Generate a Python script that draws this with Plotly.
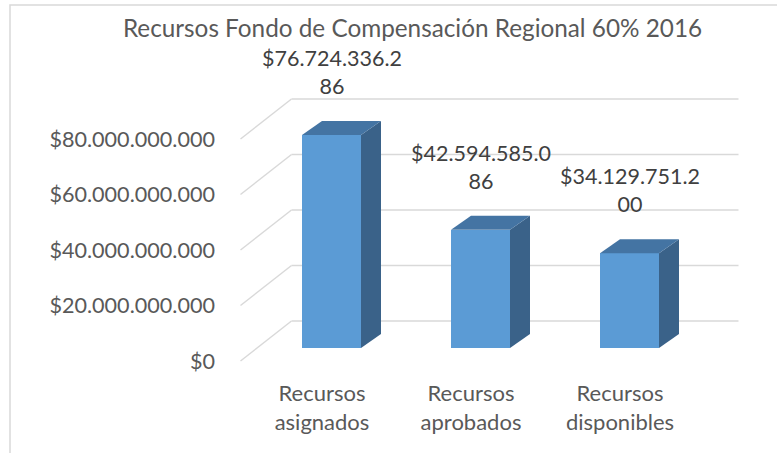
import plotly.graph_objects as go

# ---------------- data ----------------
categories = ["Recursos asignados", "Recursos aprobados", "Recursos disponibles"]
values = [76724336286, 42594585086, 34129751200]
y_tick_vals = [0, 20e9, 40e9, 60e9, 80e9]
y_tick_text = ["$0", "$20.000.000.000", "$40.000.000.000", "$60.000.000.000", "$80.000.000.000"]
title_text = "Recursos Fondo de Compensación Regional 60% 2016"

# ---------------- styling / projection ----------------
W, H = 777, 453
M_L, M_R, M_T, M_B = 236, 33, 90, 84
PX_PER_CAT = 149.0
CAT0_PX = 315.0            # pixel of category 0 on the front plane
PX_PER_VAL = 2.775e-9      # pixels per value unit
FLOOR_PX = 361.0           # pixel of value 0 on the front plane

WALL_DX = 51 / PX_PER_CAT
WALL_DY = 40 / PX_PER_VAL
BAR_DX = 16.5 / PX_PER_CAT
BAR_DY = 13 / PX_PER_VAL
BAR_W = 59 / PX_PER_CAT
SIDE_DX = 20 / PX_PER_CAT
SIDE_DY = 14 / PX_PER_VAL

FRONT = "#5B9BD5"
TOP = "#4474A3"
SIDE = "#3A6289"
GRID = "#D9D9D9"
TXT = "#595959"
LBL = "#404040"
FONT = "Lato"

x_range = [(M_L - CAT0_PX) / PX_PER_CAT, (W - M_R - CAT0_PX) / PX_PER_CAT]
y_range = [-((H - M_B) - FLOOR_PX) / PX_PER_VAL, (FLOOR_PX - M_T) / PX_PER_VAL]

n = len(categories)
x_pos = list(range(n))
x_left_floor = -0.5
x_right_floor = n - 0.5

fig = go.Figure()

# back wall gridlines + side wall diagonals (drawn below the bars)
for v in y_tick_vals:
    fig.add_shape(type="line", xref="x", yref="y", layer="below",
                  x0=x_left_floor, y0=v, x1=x_left_floor + WALL_DX, y1=v + WALL_DY,
                  line=dict(color=GRID, width=1.5))
    fig.add_shape(type="line", xref="x", yref="y", layer="below",
                  x0=x_left_floor + WALL_DX, y0=v + WALL_DY, x1=x_right_floor + WALL_DX, y1=v + WALL_DY,
                  line=dict(color=GRID, width=1.5))

# bar front faces
fig.add_trace(go.Bar(x=[p + BAR_DX for p in x_pos], y=values, base=BAR_DY, width=BAR_W,
                     marker=dict(color=FRONT, line=dict(width=0)), showlegend=False,
                     hoverinfo="skip"))

# side and top faces
for p, v in zip(x_pos, values):
    xl = p + BAR_DX - BAR_W / 2
    xr = xl + BAR_W
    yb = BAR_DY
    yt = v + BAR_DY
    fig.add_trace(go.Scatter(
        x=[xr, xr, xr + SIDE_DX, xr + SIDE_DX, xr],
        y=[yb, yt, yt + SIDE_DY, yb + SIDE_DY, yb],
        mode="lines", fill="toself", fillcolor=SIDE, line=dict(width=0, color=SIDE),
        hoverinfo="skip", showlegend=False))
    fig.add_trace(go.Scatter(
        x=[xl, xr, xr + SIDE_DX, xl + SIDE_DX, xl],
        y=[yt, yt, yt + SIDE_DY, yt + SIDE_DY, yt],
        mode="lines", fill="toself", fillcolor=TOP, line=dict(width=0, color=TOP),
        hoverinfo="skip", showlegend=False))


def money(v):
    return "$" + f"{v:,}".replace(",", ".")


for p, v in zip(x_pos, values):
    s = money(v)
    fig.add_annotation(x=p + BAR_DX, y=v + BAR_DY, text=s[:13] + "<br>" + s[13:],
                       showarrow=False, yanchor="bottom", xanchor="center", yshift=34,
                       font=dict(family=FONT, size=21.5, color=LBL))

# chart border (left and top visible)
fig.add_shape(type="rect", xref="paper", yref="paper",
              x0=(10 - M_L) / (W - M_L - M_R), x1=(W + 20 - M_L) / (W - M_L - M_R),
              y0=-(20 + M_B) / (H - M_T - M_B), y1=(H - M_B - 5) / (H - M_T - M_B),
              line=dict(color=GRID, width=1.5), layer="below")

fig.update_layout(
    width=W, height=H, autosize=False,
    margin=dict(l=M_L, r=M_R, t=M_T, b=M_B),
    paper_bgcolor="white", plot_bgcolor="white",
    showlegend=False,
    title=dict(text=title_text, x=412.5 / W, xanchor="center", y=1 - 28 / H, yanchor="middle",
               font=dict(family=FONT, size=24.3, color=TXT)),
    xaxis=dict(range=x_range, tickvals=x_pos, ticktext=[c.replace(" ", "<br>") for c in categories],
               showgrid=False, zeroline=False, showline=False, ticks="",
               tickfont=dict(family=FONT, size=22, color=TXT), ticklabelstandoff=9,
               ticklabelshift=7, fixedrange=True),
    yaxis=dict(range=y_range, tickvals=y_tick_vals, ticktext=y_tick_text,
               showgrid=False, zeroline=False, showline=False, ticks="",
               tickfont=dict(family=FONT, size=21.6, color=TXT), ticklabelstandoff=20,
               fixedrange=True),
    bargap=0,
)

fig.write_html("out.html", config={"displayModeBar": False},
               post_script="document.body.style.margin='0';document.body.style.overflow='hidden';")
